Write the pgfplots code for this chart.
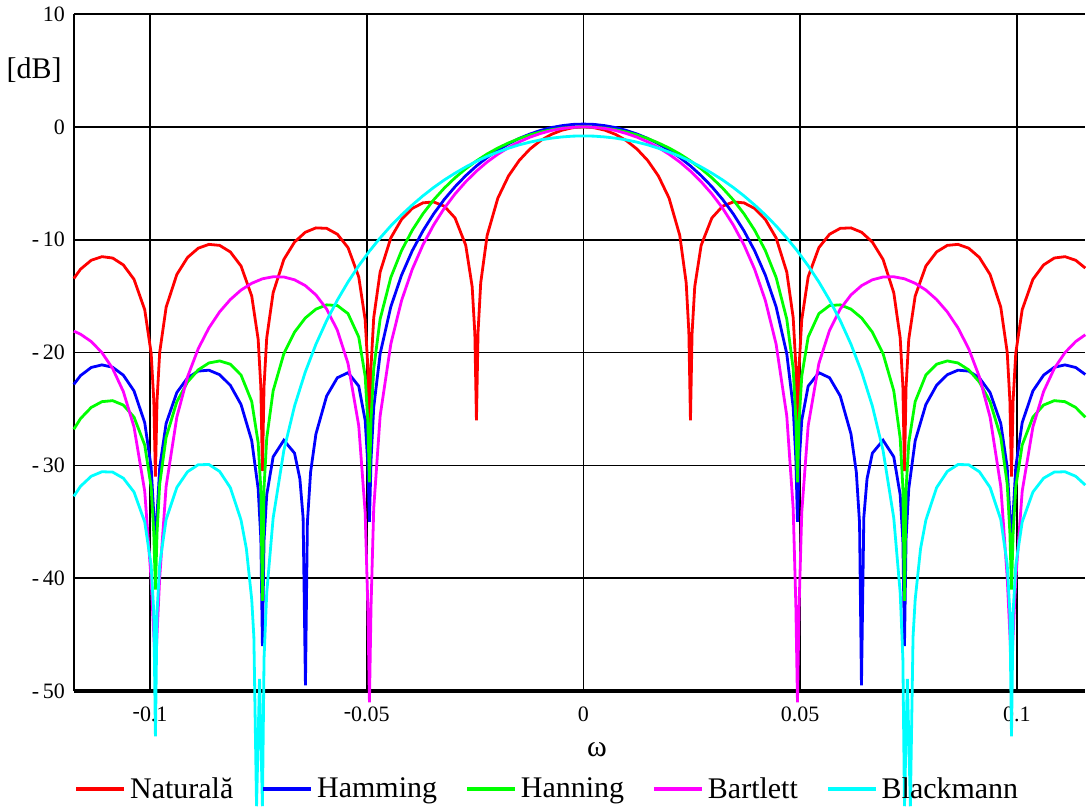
\documentclass[border=0pt]{standalone}
\usepackage{fontspec}
\setmainfont{Liberation Serif}
\usepackage{pgfplots}
\pgfplotsset{compat=1.18}
\definecolor{cNat}{RGB}{255,0,0}
\definecolor{cHam}{RGB}{0,0,255}
\definecolor{cHan}{RGB}{0,255,0}
\definecolor{cBar}{RGB}{255,0,255}
\definecolor{cBla}{RGB}{0,255,255}
\begin{document}
\begin{tikzpicture}
\begin{axis}[
  scale only axis,
  width=506.4pt, height=339pt,
  xmin=-0.11758, xmax=0.1158,
  ymin=-50, ymax=10,
  clip=false,
  axis x line*=bottom, axis y line*=left,
  x axis line style={line width=1.7pt},
  y axis line style={line width=0.8pt},
  xtick={-0.1,-0.05,0,0.05,0.1},
  xticklabels={\raisebox{0.35ex}{-}0.1,\raisebox{0.35ex}{-}0.05,0,0.05,0.1},
  ytick={-50,-40,-30,-20,-10,0,10},
  yticklabels={-\,50,-\,40,-\,30,-\,20,-\,10,0,10},
  major tick length=0pt,
  grid=major,
  grid style={black, line width=0.8pt},
  tick label style={font=\fontsize{11}{13}\selectfont},
  xticklabel style={yshift=-4.5pt},
  yticklabel style={xshift=-1pt},
  legend columns=5,
  legend image code/.code={\draw[line width=2pt] (0pt,0pt) -- (24pt,0pt);},
  legend style={at={(0,-0.145)}, anchor=west, draw=none, fill=none,
    font=\fontsize{15}{18}\selectfont, inner sep=0pt,
    nodes={inner sep=2pt},
    /tikz/every even column/.append style={column sep=12pt}},
  every axis plot/.append style={line width=1.4pt},
]
% bounding frame of the whole figure
\path (axis cs:-0.13463,11.1) rectangle (axis cs:0.1158,-60.2);

\addplot[cNat] coordinates {
(-0.117605,-13.44) (-0.116049,-12.61) (-0.113580,-11.82) (-0.111111,-11.50) (-0.108642,-11.62) (-0.106173,-12.23) (-0.103704,-13.51) (-0.101235,-16.20) (-0.099753,-20.05) (-0.099136,-24.28) (-0.098765,-31.0) (-0.098395,-24.25) (-0.097778,-19.97) (-0.096296,-15.98) (-0.093827,-13.08) (-0.091358,-11.57) (-0.088889,-10.75) (-0.086420,-10.41) (-0.083951,-10.50) (-0.081481,-11.08) (-0.079012,-12.33) (-0.076543,-14.99) (-0.075062,-18.82) (-0.074444,-23.03) (-0.074074,-30.5) (-0.073704,-22.99) (-0.073086,-18.70) (-0.071605,-14.70) (-0.069136,-11.75) (-0.066667,-10.21) (-0.064198,-9.34) (-0.061728,-8.95) (-0.059259,-8.99) (-0.056790,-9.51) (-0.054321,-10.70) (-0.051852,-13.29) (-0.050370,-17.09) (-0.049753,-21.28) (-0.049383,-27.0) (-0.049012,-21.22) (-0.048395,-16.91) (-0.046914,-12.86) (-0.044444,-9.83) (-0.041975,-8.20) (-0.039506,-7.23) (-0.037037,-6.73) (-0.034568,-6.65) (-0.032099,-7.03) (-0.029630,-8.07) (-0.027160,-10.49) (-0.025679,-14.16) (-0.025062,-18.31) (-0.024691,-26.0) (-0.024321,-18.18) (-0.023704,-13.81) (-0.022222,-9.614) (-0.019753,-6.310) (-0.017284,-4.343) (-0.014815,-2.971) (-0.012346,-1.961) (-0.009877,-1.210) (-0.007407,-0.663) (-0.004938,-0.290) (-0.002469,-0.072) (0,0)
(0.002469,-0.072) (0.004938,-0.290) (0.007407,-0.663) (0.009877,-1.210) (0.012346,-1.961) (0.014815,-2.971) (0.017284,-4.343) (0.019753,-6.310) (0.022222,-9.614) (0.023704,-13.81) (0.024321,-18.18) (0.024691,-26.0) (0.025062,-18.31) (0.025679,-14.16) (0.027160,-10.49) (0.029630,-8.07) (0.032099,-7.03) (0.034568,-6.65) (0.037037,-6.73) (0.039506,-7.23) (0.041975,-8.20) (0.044444,-9.83) (0.046914,-12.86) (0.048395,-16.91) (0.049012,-21.22) (0.049383,-27.0) (0.049753,-21.28) (0.050370,-17.09) (0.051852,-13.29) (0.054321,-10.70) (0.056790,-9.51) (0.059259,-8.99) (0.061728,-8.95) (0.064198,-9.34) (0.066667,-10.21) (0.069136,-11.75) (0.071605,-14.70) (0.073086,-18.70) (0.073704,-22.99) (0.074074,-30.5) (0.074444,-23.03) (0.075062,-18.82) (0.076543,-14.99) (0.079012,-12.33) (0.081481,-11.08) (0.083951,-10.50) (0.086420,-10.41) (0.088889,-10.75) (0.091358,-11.57) (0.093827,-13.08) (0.096296,-15.98) (0.097778,-19.97) (0.098395,-24.25) (0.098765,-31.0) (0.099136,-24.28) (0.099753,-20.05) (0.101235,-16.20) (0.103704,-13.51) (0.106173,-12.23) (0.108642,-11.62) (0.111111,-11.50) (0.113580,-11.82) (0.115802,-12.51)
};
\addlegendentry{Naturală}

\addplot[cHam] coordinates {
(-0.117605,-22.82) (-0.116049,-22.04) (-0.113580,-21.32) (-0.111111,-21.09) (-0.108642,-21.30) (-0.106173,-22.00) (-0.103704,-23.40) (-0.101235,-26.21) (-0.099753,-30.14) (-0.099136,-34.40) (-0.098765,-38.0) (-0.098395,-34.41) (-0.097778,-30.17) (-0.096296,-26.28) (-0.093827,-23.54) (-0.091358,-22.24) (-0.088889,-21.64) (-0.086420,-21.56) (-0.083951,-21.96) (-0.081481,-22.90) (-0.079012,-24.60) (-0.076543,-27.81) (-0.075062,-32.06) (-0.074444,-36.46) (-0.074074,-46.0) (-0.073704,-36.67) (-0.073086,-32.61) (-0.071605,-29.24) (-0.069136,-27.77) (-0.066667,-28.91) (-0.065432,-31.19) (-0.064691,-34.61) (-0.064148,-49.5) (-0.063704,-35.08) (-0.062963,-30.60) (-0.061728,-27.21) (-0.059259,-23.85) (-0.056790,-22.23) (-0.054321,-21.78) (-0.051852,-22.97) (-0.050370,-26.00) (-0.049753,-29.89) (-0.049383,-35.0) (-0.049012,-29.46) (-0.048395,-24.86) (-0.046914,-20.10) (-0.044444,-15.93) (-0.041975,-13.14) (-0.039506,-10.98) (-0.037037,-9.21) (-0.034568,-7.71) (-0.032099,-6.42) (-0.029630,-5.30) (-0.027160,-4.32) (-0.024691,-3.46) (-0.022222,-2.71) (-0.019753,-2.06) (-0.017284,-1.50) (-0.014815,-1.02) (-0.012346,-0.63) (-0.009877,-0.31) (-0.007407,-0.06) (-0.004938,0.11) (-0.002469,0.22) (0,0.25)
(0.002469,0.22) (0.004938,0.11) (0.007407,-0.06) (0.009877,-0.31) (0.012346,-0.63) (0.014815,-1.02) (0.017284,-1.50) (0.019753,-2.06) (0.022222,-2.71) (0.024691,-3.46) (0.027160,-4.32) (0.029630,-5.30) (0.032099,-6.42) (0.034568,-7.71) (0.037037,-9.21) (0.039506,-10.98) (0.041975,-13.14) (0.044444,-15.93) (0.046914,-20.10) (0.048395,-24.86) (0.049012,-29.46) (0.049383,-35.0) (0.049753,-29.89) (0.050370,-26.00) (0.051852,-22.97) (0.054321,-21.78) (0.056790,-22.23) (0.059259,-23.85) (0.061728,-27.21) (0.062963,-30.60) (0.063704,-35.08) (0.064148,-49.5) (0.064691,-34.61) (0.065432,-31.19) (0.066667,-28.91) (0.069136,-27.77) (0.071605,-29.24) (0.073086,-32.61) (0.073704,-36.67) (0.074074,-46.0) (0.074444,-36.46) (0.075062,-32.06) (0.076543,-27.81) (0.079012,-24.60) (0.081481,-22.90) (0.083951,-21.96) (0.086420,-21.56) (0.088889,-21.64) (0.091358,-22.24) (0.093827,-23.54) (0.096296,-26.28) (0.097778,-30.17) (0.098395,-34.41) (0.098765,-38.0) (0.099136,-34.40) (0.099753,-30.14) (0.101235,-26.21) (0.103704,-23.40) (0.106173,-22.00) (0.108642,-21.30) (0.111111,-21.09) (0.113580,-21.32) (0.115802,-21.94)
};
\addlegendentry{Hamming}

\addplot[cHan] coordinates {
(-0.117605,-26.80) (-0.116049,-25.85) (-0.113580,-24.86) (-0.111111,-24.35) (-0.108642,-24.26) (-0.106173,-24.65) (-0.103704,-25.72) (-0.101235,-28.19) (-0.099753,-31.91) (-0.099136,-36.07) (-0.098765,-41.0) (-0.098395,-35.97) (-0.097778,-31.64) (-0.096296,-27.51) (-0.093827,-24.36) (-0.091358,-22.61) (-0.088889,-21.53) (-0.086420,-20.92) (-0.083951,-20.74) (-0.081481,-21.03) (-0.079012,-21.99) (-0.076543,-24.34) (-0.075062,-27.98) (-0.074444,-32.11) (-0.074074,-42.0) (-0.073704,-31.97) (-0.073086,-27.60) (-0.071605,-23.39) (-0.069136,-20.10) (-0.066667,-18.19) (-0.064198,-16.94) (-0.061728,-16.15) (-0.059259,-15.77) (-0.056790,-15.83) (-0.054321,-16.55) (-0.051852,-18.62) (-0.050370,-22.09) (-0.049753,-26.14) (-0.049383,-31.5) (-0.049012,-25.90) (-0.048395,-21.45) (-0.046914,-17.03) (-0.044444,-13.33) (-0.041975,-10.96) (-0.039506,-9.16) (-0.037037,-7.70) (-0.034568,-6.47) (-0.032099,-5.42) (-0.029630,-4.51) (-0.027160,-3.71) (-0.024691,-3.01) (-0.022222,-2.40) (-0.019753,-1.87) (-0.017284,-1.42) (-0.014815,-1.03) (-0.012346,-0.71) (-0.009877,-0.45) (-0.007407,-0.25) (-0.004938,-0.11) (-0.002469,-0.03) (0,0)
(0.002469,-0.03) (0.004938,-0.11) (0.007407,-0.25) (0.009877,-0.45) (0.012346,-0.71) (0.014815,-1.03) (0.017284,-1.42) (0.019753,-1.87) (0.022222,-2.40) (0.024691,-3.01) (0.027160,-3.71) (0.029630,-4.51) (0.032099,-5.42) (0.034568,-6.47) (0.037037,-7.70) (0.039506,-9.16) (0.041975,-10.96) (0.044444,-13.33) (0.046914,-17.03) (0.048395,-21.45) (0.049012,-25.90) (0.049383,-31.5) (0.049753,-26.14) (0.050370,-22.09) (0.051852,-18.62) (0.054321,-16.55) (0.056790,-15.83) (0.059259,-15.77) (0.061728,-16.15) (0.064198,-16.94) (0.066667,-18.19) (0.069136,-20.10) (0.071605,-23.39) (0.073086,-27.60) (0.073704,-31.97) (0.074074,-42.0) (0.074444,-32.11) (0.075062,-27.98) (0.076543,-24.34) (0.079012,-21.99) (0.081481,-21.03) (0.083951,-20.74) (0.086420,-20.92) (0.088889,-21.53) (0.091358,-22.61) (0.093827,-24.36) (0.096296,-27.51) (0.097778,-31.64) (0.098395,-35.97) (0.098765,-41.0) (0.099136,-36.07) (0.099753,-31.91) (0.101235,-28.19) (0.103704,-25.72) (0.106173,-24.65) (0.108642,-24.26) (0.111111,-24.35) (0.113580,-24.86) (0.115802,-25.73)
};
\addlegendentry{Hanning}

\addplot[cBar] coordinates {
(-0.117605,-18.10) (-0.116049,-18.37) (-0.113580,-19.02) (-0.111111,-20.00) (-0.108642,-21.41) (-0.106173,-23.45) (-0.103704,-26.59) (-0.101235,-32.29) (-0.099753,-40.09) (-0.098765,-48.0) (-0.097778,-39.92) (-0.096296,-31.86) (-0.093827,-25.72) (-0.091358,-22.15) (-0.088889,-19.66) (-0.086420,-17.81) (-0.083951,-16.39) (-0.081481,-15.30) (-0.079012,-14.46) (-0.076543,-13.86) (-0.074074,-13.46) (-0.071605,-13.28) (-0.069136,-13.30) (-0.066667,-13.55) (-0.064198,-14.06) (-0.061728,-14.89) (-0.059259,-16.14) (-0.056790,-18.02) (-0.054321,-20.97) (-0.051852,-26.48) (-0.050370,-34.16) (-0.049753,-42.56) (-0.049383,-51.0) (-0.049012,-42.43) (-0.048395,-33.81) (-0.046914,-25.61) (-0.044444,-19.23) (-0.041975,-15.39) (-0.039506,-12.62) (-0.037037,-10.45) (-0.034568,-8.69) (-0.032099,-7.20) (-0.029630,-5.94) (-0.027160,-4.86) (-0.024691,-3.92) (-0.022222,-3.11) (-0.019753,-2.42) (-0.017284,-1.83) (-0.014815,-1.33) (-0.012346,-0.91) (-0.009877,-0.58) (-0.007407,-0.32) (-0.004938,-0.14) (-0.002469,-0.04) (0,0)
(0.002469,-0.04) (0.004938,-0.14) (0.007407,-0.32) (0.009877,-0.58) (0.012346,-0.91) (0.014815,-1.33) (0.017284,-1.83) (0.019753,-2.42) (0.022222,-3.11) (0.024691,-3.92) (0.027160,-4.86) (0.029630,-5.94) (0.032099,-7.20) (0.034568,-8.69) (0.037037,-10.45) (0.039506,-12.62) (0.041975,-15.39) (0.044444,-19.23) (0.046914,-25.61) (0.048395,-33.81) (0.049012,-42.43) (0.049383,-51.0) (0.049753,-42.56) (0.050370,-34.16) (0.051852,-26.48) (0.054321,-20.97) (0.056790,-18.02) (0.059259,-16.14) (0.061728,-14.89) (0.064198,-14.06) (0.066667,-13.55) (0.069136,-13.30) (0.071605,-13.28) (0.074074,-13.46) (0.076543,-13.86) (0.079012,-14.46) (0.081481,-15.30) (0.083951,-16.39) (0.086420,-17.81) (0.088889,-19.66) (0.091358,-22.15) (0.093827,-25.72) (0.096296,-31.86) (0.097778,-39.92) (0.098765,-48.0) (0.099753,-40.09) (0.101235,-32.29) (0.103704,-26.59) (0.106173,-23.45) (0.108642,-21.41) (0.111111,-20.00) (0.113580,-19.02) (0.115802,-18.42)
};
\addlegendentry{Bartlett}

\addplot[cBla] coordinates {
(-0.117605,-32.74) (-0.116049,-31.85) (-0.113580,-30.96) (-0.111111,-30.56) (-0.108642,-30.59) (-0.106173,-31.13) (-0.103704,-32.36) (-0.101235,-35.01) (-0.099753,-38.85) (-0.099136,-43.07) (-0.098765,-54.0) (-0.098395,-43.04) (-0.097778,-38.76) (-0.096296,-34.79) (-0.093827,-31.95) (-0.091358,-30.56) (-0.088889,-29.94) (-0.086420,-29.92) (-0.083951,-30.53) (-0.081481,-31.97) (-0.079012,-34.84) (-0.077778,-37.39) (-0.076543,-41.89) (-0.076049,-45.21) (-0.075432,-60.2) (-0.074741,-48.91) (-0.074074,-60.2) (-0.073704,-47.10) (-0.073086,-41.29) (-0.071605,-34.67) (-0.069136,-28.68) (-0.066667,-24.74) (-0.064198,-21.73) (-0.061728,-19.26) (-0.059259,-17.17) (-0.056790,-15.35) (-0.054321,-13.74) (-0.051852,-12.31) (-0.049383,-11.01) (-0.046914,-9.84) (-0.044444,-8.77) (-0.041975,-7.80) (-0.039506,-6.92) (-0.037037,-6.11) (-0.034568,-5.37) (-0.032099,-4.70) (-0.029630,-4.10) (-0.027160,-3.55) (-0.024691,-3.05) (-0.022222,-2.61) (-0.019753,-2.23) (-0.017284,-1.89) (-0.014815,-1.59) (-0.012346,-1.35) (-0.009877,-1.15) (-0.007407,-1.00) (-0.004938,-0.89) (-0.002469,-0.82) (0,-0.80)
(0.002469,-0.82) (0.004938,-0.89) (0.007407,-1.00) (0.009877,-1.15) (0.012346,-1.35) (0.014815,-1.59) (0.017284,-1.89) (0.019753,-2.23) (0.022222,-2.61) (0.024691,-3.05) (0.027160,-3.55) (0.029630,-4.10) (0.032099,-4.70) (0.034568,-5.37) (0.037037,-6.11) (0.039506,-6.92) (0.041975,-7.80) (0.044444,-8.77) (0.046914,-9.84) (0.049383,-11.01) (0.051852,-12.31) (0.054321,-13.74) (0.056790,-15.35) (0.059259,-17.17) (0.061728,-19.26) (0.064198,-21.73) (0.066667,-24.74) (0.069136,-28.68) (0.071605,-34.67) (0.073086,-41.29) (0.073704,-47.10) (0.074074,-60.2) (0.074741,-48.91) (0.075432,-60.2) (0.076049,-45.21) (0.076543,-41.89) (0.077778,-37.39) (0.079012,-34.84) (0.081481,-31.97) (0.083951,-30.53) (0.086420,-29.92) (0.088889,-29.94) (0.091358,-30.56) (0.093827,-31.95) (0.096296,-34.79) (0.097778,-38.76) (0.098395,-43.04) (0.098765,-54.0) (0.099136,-43.07) (0.099753,-38.85) (0.101235,-35.01) (0.103704,-32.36) (0.106173,-31.13) (0.108642,-30.59) (0.111111,-30.56) (0.113580,-30.96) (0.115802,-31.74)
};
\addlegendentry{Blackmann}

\node[inner sep=0pt, anchor=east, font=\fontsize{15}{18}\selectfont]
  at (axis cs:-0.11758,5) [xshift=-6pt] {[dB]};
\node[inner sep=0pt, font=\fontsize{15}{18}\selectfont]
  at (axis cs:0.0031,-50) [yshift=-29.5pt] {ω};
\end{axis}
\end{tikzpicture}
\end{document}
